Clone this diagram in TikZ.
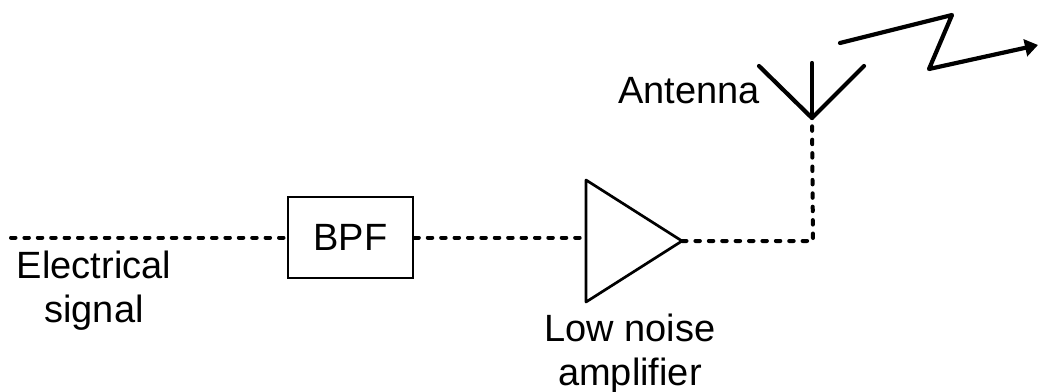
\documentclass[tikz,border=0pt]{standalone}
\usepackage{fontspec}
\setmainfont{Liberation Sans}
\usetikzlibrary{arrows.meta}
\begin{document}
\begin{tikzpicture}[x=1pt,y=-1pt,
  wire/.style={line width=4pt,line cap=round,dash pattern=on 4.5pt off 8.9pt,black},
  thinline/.style={line width=2.7pt,black},
  ant/.style={line width=4.2pt,line cap=round,line join=round,black},
  lbl/.style={font=\fontsize{38}{44}\selectfont,align=center,inner sep=0pt,text=black}]
\useasboundingbox (0,0) rectangle (1038,391);
\coordinate (wstart) at (11,237.5);
\node[draw,thinline,minimum width=125pt,minimum height=81pt,inner sep=0pt,font=\fontsize{38}{44}\selectfont] (bpf) at (350.5,237.5) {BPF};
\coordinate (ampTL) at (586,180);
\coordinate (ampBL) at (586,302);
\coordinate (ampTip) at (682,241);
\coordinate (ampIn) at (586,237.5);
\coordinate (corner) at (813,241);
\coordinate (antBase) at (812,118);
\coordinate (antL) at (759,66);
\coordinate (antM) at (812,63);
\coordinate (antR) at (864,66);
\draw[wire] (wstart) -- (bpf.west);
\draw[wire] (bpf.east) -- (ampIn);
\draw[wire] (ampTip) -- (corner) -- (antBase);
\draw[thinline,line join=round] (ampTL) -- (ampTip) -- (ampBL) -- cycle;
\draw[ant] (antL) -- (antBase) -- (antR);
\draw[ant] (antM) -- (antBase);
\coordinate (z1) at (840,43);
\coordinate (z2) at (952,15);
\coordinate (z3) at (929,69);
\coordinate (z4) at (1038,45);
\draw[ant,-{Triangle[length=13pt,width=17pt]}] (z1) -- (z2) -- (z3) -- (z4);
\node[lbl] (antenna) at (689,91) {Antenna};
\node[lbl] (elec) at (94,291) {Electrical\\signal};
\node[lbl] (lna) at (630,354) {Low noise\\amplifier};
\end{tikzpicture}
\end{document}
